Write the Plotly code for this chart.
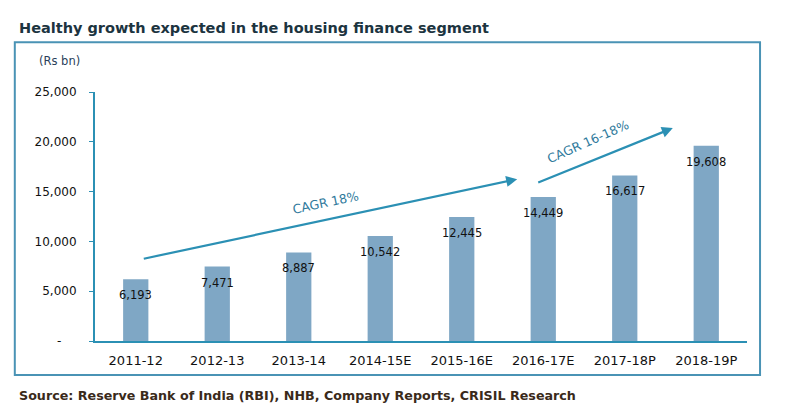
import plotly.graph_objects as go

categories = ["2011-12", "2012-13", "2013-14", "2014-15E", "2015-16E", "2016-17E", "2017-18P", "2018-19P"]
values = [6193, 7471, 8887, 10542, 12445, 14449, 16617, 19608]
tick_vals = [0, 5000, 10000, 15000, 20000, 25000]
tick_text = ["-\u00a0\u00a0\u00a0\u00a0", "5,000", "10,000", "15,000", "20,000", "25,000"]

BAR = "#7fa7c5"
TEAL = "#2b90b4"
FONT = "DejaVu Sans, Verdana, sans-serif"

fig = go.Figure()
fig.add_trace(go.Bar(x=categories, y=values, marker_color=BAR, marker_line_width=0, width=0.31))

annotations = []
for c, v in zip(categories, values):
    annotations.append(dict(x=c, y=v, text=f"{v:,}", showarrow=False, yshift=-16,
                            font=dict(family=FONT, size=11.5, color="#111111")))

# CAGR arrows
annotations.append(dict(x=4.68, y=16250, ax=0.08, ay=8230, xref="x", yref="y", axref="x", ayref="y",
                        showarrow=True, arrowhead=2, arrowsize=1, arrowwidth=2.2, arrowcolor=TEAL, text=""))
annotations.append(dict(x=6.59, y=21380, ax=4.92, ay=15860, xref="x", yref="y", axref="x", ayref="y",
                        showarrow=True, arrowhead=2, arrowsize=1, arrowwidth=2.2, arrowcolor=TEAL, text=""))
annotations.append(dict(x=2.33, y=13950, text="CAGR 18%", showarrow=False, textangle=-12,
                        font=dict(family=FONT, size=12.5, color="#2f7a9c")))
annotations.append(dict(x=5.55, y=20080, text="CAGR 16-18%", showarrow=False, textangle=-24,
                        font=dict(family=FONT, size=12.5, color="#2f7a9c")))

# title, unit, source
annotations.append(dict(xref="paper", yref="paper", x=-0.12, y=1.257, xanchor="left", yanchor="middle",
                        text="<b>Healthy growth expected in the housing finance segment</b>", showarrow=False,
                        font=dict(family=FONT, size=14.5, color="#1c3440")))
annotations.append(dict(xref="paper", yref="paper", x=-0.089, y=1.124, xanchor="left", yanchor="middle",
                        text="(Rs bn)", showarrow=False, font=dict(family=FONT, size=11.5, color="#2a3f5a")))
annotations.append(dict(xref="paper", yref="paper", x=-0.12, y=-0.217, xanchor="left", yanchor="middle",
                        text="<b>Source: Reserve Bank of India (RBI), NHB, Company Reports, CRISIL Research</b>",
                        showarrow=False, font=dict(family=FONT, size=12.7, color="#3a2a1a")))

fig.update_layout(
    width=782, height=408,
    margin=dict(l=87, r=43, t=84, b=75),
    paper_bgcolor="white", plot_bgcolor="white",
    showlegend=False,
    annotations=annotations,
    shapes=[dict(type="rect", xref="paper", yref="paper", x0=-0.123, x1=1.02, y0=-0.137, y1=1.2,
                 line=dict(color="#4a93b5", width=2))],
    xaxis=dict(type="category", showline=True, linecolor=TEAL, linewidth=2, ticks="", showgrid=False,
               ticklabelstandoff=6,
               tickfont=dict(family=FONT, size=13, color="#111111"), range=[-0.5, 7.5]),
    yaxis=dict(range=[0, 25000], tickvals=tick_vals, ticktext=tick_text, showline=True, linecolor=TEAL,
               linewidth=2, ticks="outside", ticklen=4, tickcolor=TEAL, showgrid=False, zeroline=False,
               ticklabelstandoff=10,
               tickfont=dict(family=FONT, size=12, color="#111111")),
)

fig.write_html("out.html")
